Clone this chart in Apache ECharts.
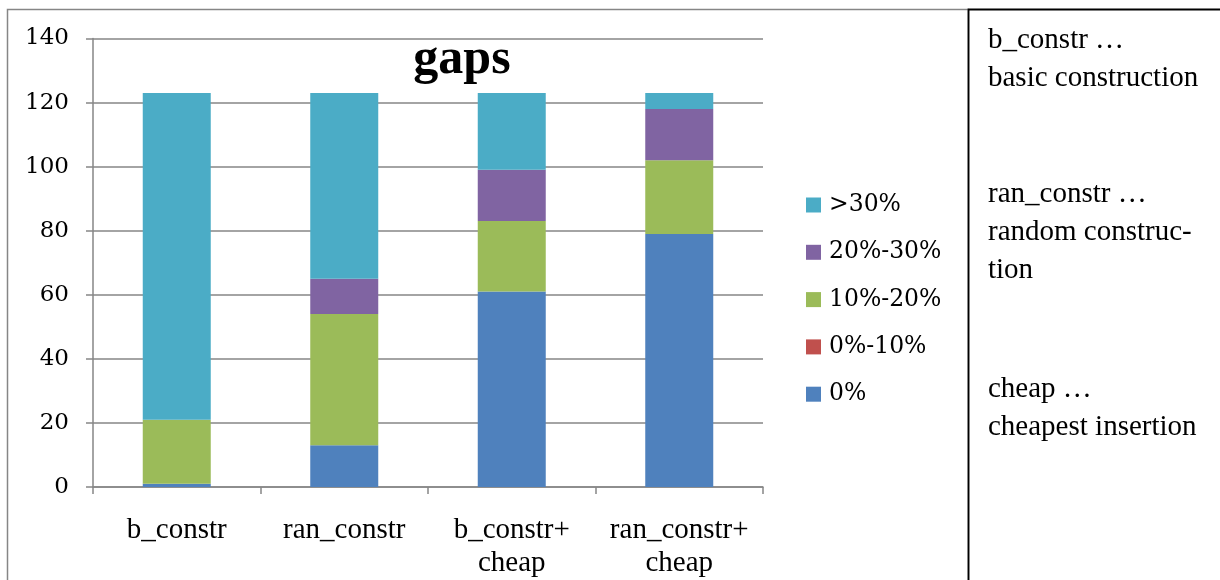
<!DOCTYPE html>
<html>
<head>
<meta charset="utf-8">
<title>gaps</title>
<script src="https://cdn.jsdelivr.net/npm/echarts@6/dist/echarts.min.js"></script>
<style>
  html, body { margin: 0; padding: 0; background: #ffffff; overflow: hidden; }
  #chart { width: 1220px; height: 580px; }
</style>
</head>
<body>
<div id="chart"></div>
<script>
// Categories (construction heuristics) and number of instances per gap class
const categories = ['b_constr', 'ran_constr', 'b_constr+\ncheap', 'ran_constr+\ncheap'];
const gap0      = [1, 13, 61, 79];     // 0%
const gap0to10  = [0, 0, 0, 0];        // 0%-10%
const gap10to20 = [20, 41, 22, 23];    // 10%-20%
const gap20to30 = [0, 11, 16, 16];     // 20%-30%
const gapOver30 = [102, 58, 24, 5];    // >30%
const yTicks = { min: 0, max: 140, interval: 20 };

const legendOrder = ['>30%', '20%-30%', '10%-20%', '0%-10%', '0%'];
const notes = [
  ['b_constr \u2026', 'basic construction'],
  ['ran_constr \u2026', 'random construc-', 'tion'],
  ['cheap \u2026', 'cheapest insertion']
];

const serifNum = '"DejaVu Serif", "Liberation Serif", serif';
const times = '"Liberation Serif", "Times New Roman", serif';

function barSeries(name, data, color) {
  return {
    name: name,
    type: 'bar',
    stack: 'gaps',
    data: data,
    barWidth: 68,
    itemStyle: { color: color },
    emphasis: { disabled: true }
  };
}

// Explanatory text on the right-hand panel
const noteGraphics = [];
const noteCenters = [40, 194, 389];
notes.forEach(function (lines, i) {
  lines.forEach(function (line, j) {
    noteGraphics.push({
      type: 'text',
      x: 988,
      y: noteCenters[i] + j * 38,
      style: { text: line, font: '29px ' + times, fill: '#000000', verticalAlign: 'middle' },
      silent: true
    });
  });
});

const chart = echarts.init(document.getElementById('chart'), null, { renderer: 'canvas' });
chart.setOption({
  animation: false,
  backgroundColor: '#ffffff',
  title: {
    text: 'gaps',
    left: 462,
    top: 35,
    padding: 0,
    textAlign: 'center',
    textStyle: { fontFamily: times, fontWeight: 'bold', fontSize: 50, color: '#000000' }
  },
  grid: { left: 93, width: 670, top: 38.5, height: 450.5, containLabel: false },
  legend: {
    orient: 'vertical',
    left: 806,
    top: 193,
    padding: 0,
    data: legendOrder,
    icon: 'rect',
    itemWidth: 15,
    itemHeight: 15,
    itemGap: 23.3,
    selectedMode: false,
    textStyle: { fontFamily: serifNum, fontSize: 23.5, color: '#000000', padding: [0, 0, 0, 3] }
  },
  xAxis: {
    type: 'category',
    data: categories,
    axisLine: { lineStyle: { color: '#868686', width: 1.5 } },
    axisTick: { show: true, interval: 0, length: 7, lineStyle: { color: '#868686', width: 1.5 } },
    axisLabel: { interval: 0, fontFamily: times, fontSize: 29, color: '#000000', margin: 27, lineHeight: 33 },
    splitLine: { show: false }
  },
  yAxis: {
    type: 'value',
    min: yTicks.min,
    max: yTicks.max,
    interval: yTicks.interval,
    axisLine: { show: true, lineStyle: { color: '#868686', width: 1.5 } },
    axisTick: { show: true, length: 7, lineStyle: { color: '#868686', width: 1.5 } },
    axisLabel: { fontFamily: serifNum, fontSize: 23, color: '#000000', margin: 24 },
    splitLine: { show: true, lineStyle: { color: '#868686', width: 1.5 } }
  },
  series: [
    barSeries('0%', gap0, '#4F81BD'),
    barSeries('0%-10%', gap0to10, '#C0504D'),
    barSeries('10%-20%', gap10to20, '#9BBB59'),
    barSeries('20%-30%', gap20to30, '#8064A2'),
    barSeries('>30%', gapOver30, '#4BACC6')
  ],
  graphic: [
    {
      type: 'rect',
      shape: { x: 7.5, y: 9.5, width: 961, height: 600 },
      style: { fill: 'none', stroke: '#868686', lineWidth: 1.5 },
      silent: true,
      z: -1
    },
    {
      type: 'rect',
      shape: { x: 968.5, y: 9.5, width: 300, height: 600 },
      style: { fill: 'none', stroke: '#000000', lineWidth: 1.8 },
      silent: true
    }
  ].concat(noteGraphics)
});
</script>
</body>
</html>
